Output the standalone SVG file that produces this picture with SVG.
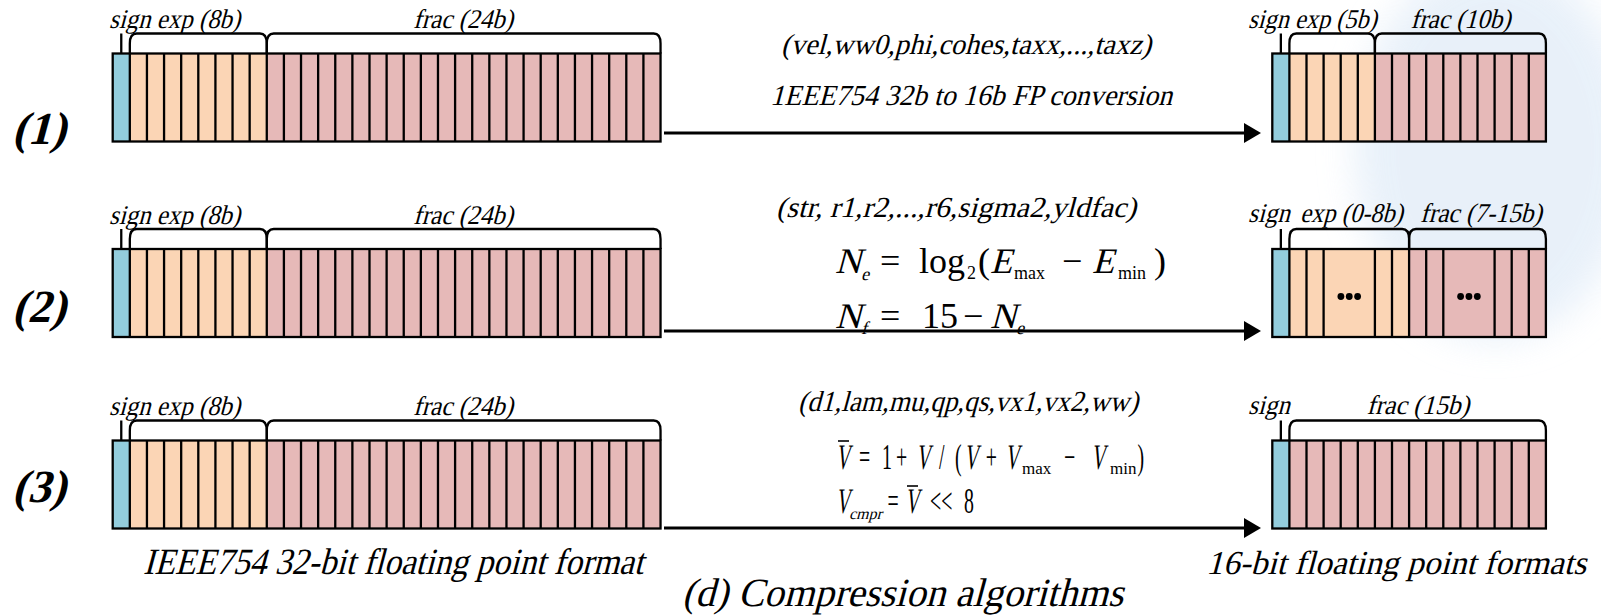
<svg xmlns="http://www.w3.org/2000/svg" xmlns:xlink="http://www.w3.org/1999/xlink" width="1601" height="616" viewBox="0 0 1601 616">
<style>
.sgn{fill:#93CDDD}
.exp{fill:#FBD5B5}
.frc{fill:#E6B9B8}
.ln{fill:none;stroke:#000;stroke-width:2.3}
.br{fill:none;stroke:#000;stroke-width:2.3}
.t{font-family:"Liberation Serif","Times New Roman",serif;font-style:normal;fill:#000}
.lab{font-size:27px}
.mid{font-size:29px}
.num{font-size:46px;font-weight:bold}
.cap{font-size:37px}
.fm{font-family:"Liberation Serif","Times New Roman",serif;font-size:36px;font-style:normal;fill:#000}
.sub{font-family:"Liberation Serif","Times New Roman",serif;font-size:18px;font-style:normal;fill:#000}
.arr{stroke:#000;stroke-width:3;fill:none;marker-end:url(#ah)}
.dot{fill:#000}
.bar{stroke:#000;stroke-width:1.6}
</style>
<defs>
<filter id="blur" x="-50%" y="-50%" width="200%" height="200%"><feGaussianBlur stdDeviation="18"/></filter>
<marker id="ah" markerUnits="userSpaceOnUse" markerWidth="18" markerHeight="20" refX="1" refY="10" orient="auto"><path d="M0 0L17 10L0 20Z" fill="#000"/></marker>
<g id="fp32">
<rect x="0" y="0" width="17.12" height="88" class="sgn"/>
<rect x="17.12" y="0" width="136.96" height="88" class="exp"/>
<rect x="154.08" y="0" width="393.76" height="88" class="frc"/>
<path class="ln" d="M17.12 0V88M34.24 0V88M51.36 0V88M68.48 0V88M85.6 0V88M102.72 0V88M119.84 0V88M136.96 0V88M154.08 0V88M171.2 0V88M188.32 0V88M205.44 0V88M222.56 0V88M239.68 0V88M256.8 0V88M273.92 0V88M291.04 0V88M308.16 0V88M325.28 0V88M342.4 0V88M359.52 0V88M376.64 0V88M393.76 0V88M410.88 0V88M428 0V88M445.12 0V88M462.24 0V88M479.36 0V88M496.48 0V88M513.6 0V88M530.72 0V88"/>
<rect x="0" y="0" width="547.84" height="88" class="ln"/>
<path class="br" d="M17.12 0V-10Q17.12 -20 24 -20H147.2Q154.08 -20 154.08 -10V0"/>
<path class="br" d="M154.08 0V-10Q154.08 -20 161 -20H541Q547.84 -20 547.84 -10V0"/>
<path class="br" d="M8.56 0V-20"/>
</g>
</defs>
<rect width="1601" height="616" fill="#fff"/>
<g id="background" filter="url(#blur)" opacity="0.75">
<ellipse cx="1495" cy="150" rx="140" ry="190" fill="#E1ECF8"/>
</g>

<g id="connectors">
<line class="arr" x1="664" y1="133" x2="1245" y2="133"/>
<line class="arr" x1="664" y1="331" x2="1245" y2="331"/>
<line class="arr" x1="664" y1="528" x2="1245" y2="528"/>
</g>

<g id="label-1"><text class="t num" transform="translate(12 143.5) skewX(-15)">(1)</text></g>
<g id="label-2"><text class="t num" transform="translate(12 322) skewX(-15)">(2)</text></g>
<g id="label-3"><text class="t num" transform="translate(12 502) skewX(-15)">(3)</text></g>

<g id="fp32-row1">
<use xlink:href="#fp32" href="#fp32" transform="translate(112.7 53.5)"/>
<text class="t lab" transform="translate(109 28) skewX(-15)" textLength="131" lengthAdjust="spacingAndGlyphs">sign exp (8b)</text>
<text class="t lab" transform="translate(413 28) skewX(-15)" textLength="100" lengthAdjust="spacingAndGlyphs">frac (24b)</text>
</g>
<g id="fp32-row2">
<use xlink:href="#fp32" href="#fp32" transform="translate(112.7 249)"/>
<text class="t lab" transform="translate(109 223.5) skewX(-15)" textLength="131" lengthAdjust="spacingAndGlyphs">sign exp (8b)</text>
<text class="t lab" transform="translate(413 223.5) skewX(-15)" textLength="100" lengthAdjust="spacingAndGlyphs">frac (24b)</text>
</g>
<g id="fp32-row3">
<use xlink:href="#fp32" href="#fp32" transform="translate(112.7 440.5)"/>
<text class="t lab" transform="translate(109 415) skewX(-15)" textLength="131" lengthAdjust="spacingAndGlyphs">sign exp (8b)</text>
<text class="t lab" transform="translate(413 415) skewX(-15)" textLength="100" lengthAdjust="spacingAndGlyphs">frac (24b)</text>
</g>

<g id="fp16-row1">
<g transform="translate(1272.3 53.5)">
<rect x="0" y="0" width="17.1" height="88" class="sgn"/>
<rect x="17.1" y="0" width="85.5" height="88" class="exp"/>
<rect x="102.6" y="0" width="171" height="88" class="frc"/>
<path class="ln" d="M17.1 0V88M34.2 0V88M51.3 0V88M68.4 0V88M85.5 0V88M102.6 0V88M119.7 0V88M136.8 0V88M153.9 0V88M171 0V88M188.1 0V88M205.2 0V88M222.3 0V88M239.4 0V88M256.5 0V88"/>
<rect x="0" y="0" width="273.6" height="88" class="ln"/>
<path class="br" d="M17.1 0V-10Q17.1 -20 24 -20H95.7Q102.6 -20 102.6 -10V0"/>
<path class="br" d="M102.6 0V-10Q102.6 -20 109.5 -20H266.7Q273.6 -20 273.6 -10V0"/>
<path class="br" d="M8.55 0V-20"/>
</g>
<text class="t lab" transform="translate(1248 28) skewX(-15)" textLength="128.5" lengthAdjust="spacingAndGlyphs">sign exp (5b)</text>
<text class="t lab" transform="translate(1410.5 28) skewX(-15)" textLength="100" lengthAdjust="spacingAndGlyphs">frac (10b)</text>
</g>

<g id="fp16-row2">
<g transform="translate(1272.3 249)">
<rect x="0" y="0" width="17.1" height="88" class="sgn"/>
<rect x="17.1" y="0" width="119.7" height="88" class="exp"/>
<rect x="136.8" y="0" width="136.8" height="88" class="frc"/>
<path class="ln" d="M17.1 0V88M34.2 0V88M51.3 0V88M102.6 0V88M119.7 0V88M136.8 0V88M153.9 0V88M171 0V88M222.3 0V88M239.4 0V88M256.5 0V88"/>
<rect x="0" y="0" width="273.6" height="88" class="ln"/>
<path class="br" d="M17.1 0V-10Q17.1 -20 24 -20H129.9Q136.8 -20 136.8 -10V0"/>
<path class="br" d="M136.8 0V-10Q136.8 -20 143.7 -20H266.7Q273.6 -20 273.6 -10V0"/>
<path class="br" d="M8.55 0V-20"/>
<circle class="dot" cx="68.6" cy="47.5" r="3.4"/>
<circle class="dot" cx="76.95" cy="47.5" r="3.4"/>
<circle class="dot" cx="85.3" cy="47.5" r="3.4"/>
<circle class="dot" cx="188.3" cy="47.5" r="3.4"/>
<circle class="dot" cx="196.65" cy="47.5" r="3.4"/>
<circle class="dot" cx="205" cy="47.5" r="3.4"/>
</g>
<text class="t lab" transform="translate(1248 222) skewX(-15)" textLength="41.7" lengthAdjust="spacingAndGlyphs">sign</text>
<text class="t lab" transform="translate(1300 222) skewX(-15)" textLength="102.7" lengthAdjust="spacingAndGlyphs">exp (0-8b)</text>
<text class="t lab" transform="translate(1420 222) skewX(-15)" textLength="121.7" lengthAdjust="spacingAndGlyphs">frac (7-15b)</text>
</g>

<g id="fp16-row3">
<g transform="translate(1272.3 440.5)">
<rect x="0" y="0" width="17.1" height="88" class="sgn"/>
<rect x="17.1" y="0" width="256.5" height="88" class="frc"/>
<path class="ln" d="M17.1 0V88M34.2 0V88M51.3 0V88M68.4 0V88M85.5 0V88M102.6 0V88M119.7 0V88M136.8 0V88M153.9 0V88M171 0V88M188.1 0V88M205.2 0V88M222.3 0V88M239.4 0V88M256.5 0V88"/>
<rect x="0" y="0" width="273.6" height="88" class="ln"/>
<path class="br" d="M17.1 0V-10Q17.1 -20 24 -20H266.7Q273.6 -20 273.6 -10V0"/>
<path class="br" d="M8.55 0V-20"/>
</g>
<text class="t lab" transform="translate(1248 414) skewX(-15)" textLength="41.7" lengthAdjust="spacingAndGlyphs">sign</text>
<text class="t lab" transform="translate(1366.5 414) skewX(-15)" textLength="102.6" lengthAdjust="spacingAndGlyphs">frac (15b)</text>
</g>

<g id="method-1">
<text class="t mid" transform="translate(781 54) skewX(-15)" textLength="370" lengthAdjust="spacingAndGlyphs">(vel,ww0,phi,cohes,taxx,...,taxz)</text>
<text class="t mid" transform="translate(770 105) skewX(-15)" textLength="402" lengthAdjust="spacingAndGlyphs">1EEE754 32b to 16b FP conversion</text>
</g>

<g id="method-2">
<text class="t mid" transform="translate(776 217) skewX(-15)" textLength="360" lengthAdjust="spacingAndGlyphs">(str, r1,r2,...,r6,sigma2,yldfac)</text>
<text class="fm" transform="translate(835 273) skewX(-15)">N</text>
<text class="sub" transform="translate(861 280) skewX(-15)">e</text>
<text class="fm" y="273"><tspan x="880">=</tspan><tspan x="919">log</tspan><tspan x="978">(</tspan><tspan x="1062">−</tspan><tspan x="1154">)</tspan></text>
<text class="fm" transform="translate(990 273) skewX(-15)">E</text>
<text class="fm" transform="translate(1092 273) skewX(-15)">E</text>
<text class="sub" x="967" y="279">2</text>
<text class="sub" x="1014" y="279">max</text>
<text class="sub" x="1118" y="279">min</text>
<text class="fm" transform="translate(835 328) skewX(-15)">N</text>
<text class="sub" transform="translate(861 334) skewX(-15)">f</text>
<text class="fm" y="328"><tspan x="880">=</tspan><tspan x="922">15</tspan><tspan x="963">−</tspan></text>
<text class="fm" transform="translate(990 328) skewX(-15)">N</text>
<text class="sub" transform="translate(1016 334) skewX(-15)">e</text>
</g>

<g id="method-3">
<text class="t mid" transform="translate(798 411) skewX(-15)" textLength="340" lengthAdjust="spacingAndGlyphs">(d1,lam,mu,qp,qs,vx1,vx2,ww)</text>
<text class="fm" transform="translate(835.7 469) scale(0.55 1) skewX(-15)">V</text>
<text class="fm" transform="translate(916 469) scale(0.55 1) skewX(-15)">V</text>
<text class="fm" transform="translate(964 469) scale(0.55 1) skewX(-15)">V</text>
<text class="fm" transform="translate(1005 469) scale(0.55 1) skewX(-15)">V</text>
<text class="fm" transform="translate(1091 469) scale(0.55 1) skewX(-15)">V</text>
<text class="fm" transform="translate(835.7 469) scale(0.55 1)"><tspan x="42.4">=</tspan><tspan x="84.2">1</tspan><tspan x="109.6">+</tspan><tspan x="187.8">/</tspan><tspan x="216.9">(</tspan><tspan x="272.7">+</tspan><tspan x="415.1">−</tspan><tspan x="548.7">)</tspan></text>
<line class="bar" x1="838" y1="441" x2="849" y2="441"/>
<text class="sub" style="font-size:17px" x="1022" y="474">max</text>
<text class="sub" style="font-size:17px" x="1110" y="474">min</text>
<text class="fm" transform="translate(835.7 513) scale(0.55 1) skewX(-15)">V</text>
<text class="fm" transform="translate(905 513) scale(0.55 1) skewX(-15)">V</text>
<text class="fm" transform="translate(835.7 513) scale(0.55 1)"><tspan x="94.2">=</tspan><tspan x="171.5">&lt;&lt;</tspan><tspan x="233.3">8</tspan></text>
<text class="sub" style="font-size:16px" transform="translate(849 519) skewX(-15)">cmpr</text>
<line class="bar" x1="907" y1="486" x2="918" y2="486"/>
</g>

<g id="captions">
<text class="t cap" transform="translate(143 574) skewX(-15)" textLength="500" lengthAdjust="spacingAndGlyphs">IEEE754 32-bit floating point format</text>
<text class="t" style="font-size:33.5px" transform="translate(1206 574) skewX(-15)" textLength="380" lengthAdjust="spacingAndGlyphs">16-bit floating point formats</text>
<text class="t" style="font-size:40px" transform="translate(682 606) skewX(-15)" textLength="441" lengthAdjust="spacingAndGlyphs">(d) Compression algorithms</text>
</g>
</svg>
